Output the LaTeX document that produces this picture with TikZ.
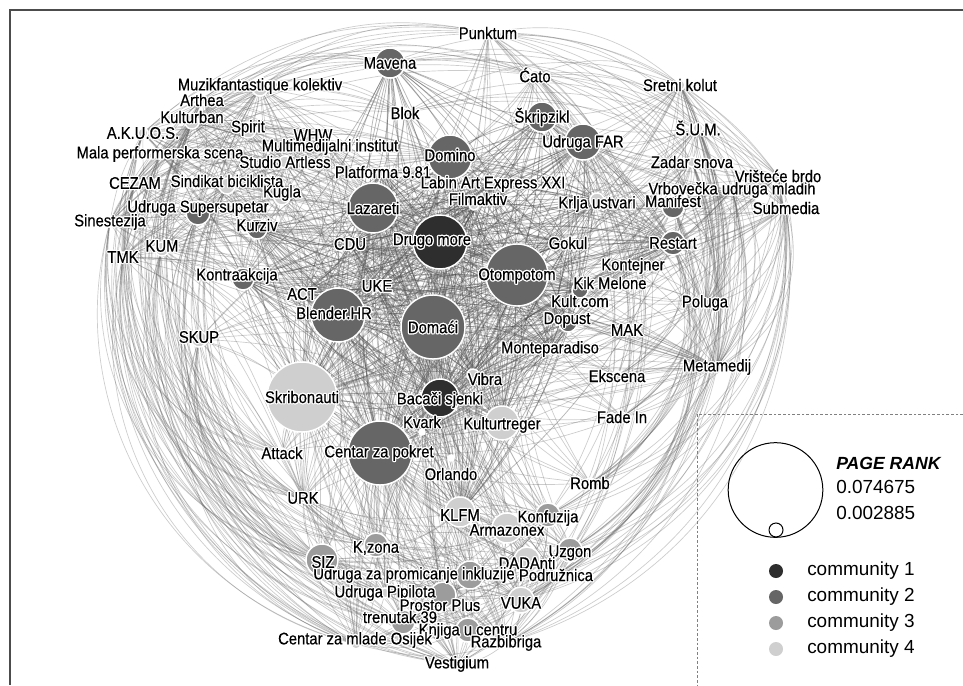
\documentclass[tikz,border=0pt]{standalone}
\usepackage{fontspec}
\setmainfont{Liberation Sans}
\newfontfamily\labfont{Liberation Sans}[FakeStretch=0.88,FakeBold=0.4]
\pgfdeclarelayer{bg}\pgfdeclarelayer{fg}
\pgfsetlayers{bg,main,fg}
\definecolor{cA}{HTML}{2E2E2E}
\definecolor{cB}{HTML}{666666}
\definecolor{cC}{HTML}{9C9C9C}
\definecolor{cD}{HTML}{CFCFCF}
\tikzset{
 nd/.style={circle,inner sep=0pt,minimum size={1.5pt*#1},draw=white,line width=1.1pt},
 lab/.style={font=\labfont\fontsize{12.6}{13}\selectfont,inner sep=0pt,text=black},
 edge/.style={draw=black!60,opacity=0.33,line width=0.5pt},
 coreedge/.style={draw=black!75,opacity=0.38,line width=0.55pt},
 leg/.style={anchor=west,inner sep=0pt,font=\fontsize{14.2}{15}\selectfont},
 legdot/.style={circle,inner sep=0pt,minimum size=10.5pt},
}
\def\halolist{1/0,-1/0,0/1,0/-1,0.7/0.7,-0.7/0.7,0.7/-0.7,-0.7/-0.7}
\newcommand\NodeX[8]{%
 \node[nd=#4,fill=#5] (#1) at (#2,#3) {};
 \begin{pgfonlayer}{fg}
  \foreach \hx/\hy in \halolist {\node[lab,text=white,xshift=\hx pt,yshift=\hy pt] at (#6,#7) {#8};}
  \node[lab] (#1-l) at (#6,#7) {#8};
 \end{pgfonlayer}}
\newcommand\mkclique[3]{\foreach \a [count=\i] in #1 {\foreach \b [count=\j] in #1 {\ifnum\j>\i\relax \draw[#3] (\a) to[bend left=#2] (\b);\fi}}}
\newcommand\mkbip[3]{\foreach \a in #1 {\foreach \b in #2 {\draw[edge] (\a) to[#3] (\b);}}}
\def\core{drugo,domaci,otompotom,centar,lazareti,blender,domino,bacaci,skribo,kulturtreger,far,skripzikl,mavena,cdu,uke,act,gokul,dopust,kultcom,monte,vibra,kvark,labin,filmaktiv,platforma,krlja,restart,kontra,kurziv,klfm}
\def\hubs{drugo,domaci,otompotom,centar,lazareti,blender,domino,bacaci,skribo}
\def\peri{punktum,muzik,arthea,kulturban,akuos,spirit,whw,multi,mala,studio,blok,cezam,sindikat,kugla,supersupetar,sinestezija,kum,tmk,skup,attack,urk,orlando,romb,ekscena,fadein,metamedij,poluga,mak,kikmelone,kontejner,manifest,vrbovecka,vristece,zadar,submedia,sum,sretni,cato,konfuzija,armazonex,uzgon,dadanti,inkluzija,podruznica,siz,kzona,pipilota,prostor,trenutak,vuka,knjiga,razbibriga,mlade,vestigium}
\def\lefttop{sinestezija,tmk,kum,cezam,akuos,mala,kulturban,arthea,muzik,supersupetar,skup,sindikat}
\def\leftbot{urk,attack,siz,mlade,pipilota,trenutak,vestigium,kzona}
\def\righttop{sretni,sum,zadar,vristece,submedia,vrbovecka,manifest,punktum,cato,restart}
\def\rightbot{metamedij,poluga,romb,fadein,ekscena,uzgon,razbibriga,vuka,podruznica,konfuzija}
\def\bottomcl{klfm,konfuzija,armazonex,uzgon,dadanti,inkluzija,podruznica,siz,kzona,pipilota,prostor,trenutak,vuka,knjiga,razbibriga,mlade,vestigium,urk,centar}
\def\leftcl{sinestezija,tmk,kum,cezam,akuos,mala,kulturban,arthea,muzik,supersupetar,spirit,sindikat,kugla,kurziv,studio,whw,multi,kontra}
\def\rightcl{sretni,sum,zadar,vristece,submedia,vrbovecka,manifest,krlja,far,skripzikl,restart,kontejner,kikmelone,poluga,metamedij}
\def\topl{muzik,akuos,mala,sinestezija,kulturban,arthea,cezam}
\def\topr{sretni,sum,submedia,vristece,zadar}
\def\topc{punktum,mavena,cato,blok}
\def\metafan{skup,kontra,kum,attack,urk,sinestezija,tmk,supersupetar,kurziv,sindikat,act,uke,cdu,monte,ekscena,mak,fadein,vibra,kvark}
\def\metam{metamedij}
\def\urkfan{skup,kontra,kum,tmk,supersupetar,sinestezija,kurziv,act,cezam,attack}
\def\urkm{urk}
\begin{document}
\begin{tikzpicture}[x=0.75pt,y=-0.75pt]
\useasboundingbox (0,0) rectangle (963,685);
% nodes
\NodeX{punktum}{488}{33}{5}{cD}{488}{33}{Punktum}
\NodeX{mavena}{390}{63}{15}{cB}{390}{63}{Mavena}
\NodeX{muzik}{260}{88}{8}{cD}{260}{86}{Muzikfantastique kolektiv}
\NodeX{arthea}{202}{100}{5}{cD}{202}{100}{Arthea}
\NodeX{kulturban}{192}{122}{7}{cD}{192}{117}{Kulturban}
\NodeX{akuos}{143}{133}{5}{cD}{143}{133}{A.K.U.O.S.}
\NodeX{spirit}{248}{130}{8}{cD}{248}{128}{Spirit}
\NodeX{whw}{313}{135}{5}{cD}{313}{135}{WHW}
\NodeX{multi}{330}{147}{5}{cD}{330}{147}{Multimedijalni institut}
\NodeX{mala}{160}{154}{5}{cD}{160}{154}{Mala performerska scena}
\NodeX{studio}{285}{162}{6}{cD}{285}{162}{Studio Artless}
\NodeX{blok}{405}{113}{5}{cD}{405}{113}{Blok}
\NodeX{domino}{450}{157}{22}{cB}{450}{155}{Domino}
\NodeX{platforma}{383}{172}{5}{cD}{383}{172}{Platforma 9.81}
\NodeX{cezam}{135}{183}{5}{cD}{135}{183}{CEZAM}
\NodeX{sindikat}{227}{186}{8}{cD}{227}{181}{Sindikat biciklista}
\NodeX{kugla}{282}{197}{8}{cD}{282}{193}{Kugla}
\NodeX{labin}{493}{184}{5}{cD}{493}{184}{Labin Art Express XXI}
\NodeX{filmaktiv}{474}{205}{5}{cD}{478}{199}{Filmaktiv}
\NodeX{lazareti}{373}{208}{25}{cB}{373}{208}{Lazareti}
\NodeX{supersupetar}{198}{213}{12}{cB}{198}{208}{Udruga Supersupetar}
\NodeX{sinestezija}{110}{222}{5}{cD}{110}{222}{Sinestezija}
\NodeX{kurziv}{257}{229}{10}{cB}{257}{225}{Kurziv}
\NodeX{cdu}{350}{244}{5}{cD}{350}{244}{CDU}
\NodeX{drugo}{440}{242}{27}{cA}{432}{241}{Drugo more}
\NodeX{kum}{162}{249}{7}{cD}{162}{246}{KUM}
\NodeX{tmk}{123}{257}{5}{cD}{123}{257}{TMK}
\NodeX{kontra}{243}{279}{11}{cB}{237}{276}{Kontraakcija}
\NodeX{act}{302}{294}{5}{cD}{302}{294}{ACT}
\NodeX{uke}{377}{286}{5}{cD}{377}{286}{UKE}
\NodeX{blender}{338}{315}{27}{cB}{334}{313}{Blender.HR}
\NodeX{domaci}{433}{327}{32}{cB}{433}{327}{Domaći}
\NodeX{skup}{199}{339}{8}{cD}{199}{337}{SKUP}
\NodeX{skribo}{302}{397}{35}{cD}{302}{397}{Skribonauti}
\NodeX{bacaci}{440}{398}{19}{cA}{440}{400}{Bacači sjenki}
\NodeX{vibra}{473}{375}{6}{cD}{485}{379}{Vibra}
\NodeX{kvark}{422}{432}{3}{white}{422}{422}{Kvark}
\NodeX{kulturtreger}{502}{423}{17}{cD}{502}{425}{Kulturtreger}
\NodeX{centar}{380}{453}{32}{cB}{379}{453}{Centar za pokret}
\NodeX{orlando}{451}{458}{3}{white}{451}{474}{Orlando}
\NodeX{attack}{282}{453}{5}{cD}{282}{453}{Attack}
\NodeX{urk}{303}{498}{5}{cD}{303}{498}{URK}
\NodeX{romb}{590}{483}{5}{cD}{590}{483}{Romb}
\NodeX{monte}{550}{349}{5}{cD}{550}{349}{Monteparadiso}
\NodeX{ekscena}{617}{376}{5}{cD}{617}{376}{Ekscena}
\NodeX{fadein}{622}{417}{5}{cD}{622}{417}{Fade In}
\NodeX{metamedij}{717}{367}{5}{cD}{717}{367}{Metamedij}
\NodeX{poluga}{705}{303}{5}{cD}{705}{303}{Poluga}
\NodeX{mak}{627}{330}{5}{cD}{627}{330}{MAK}
\NodeX{dopust}{568}{323}{9}{cB}{567}{320}{Dopust}
\NodeX{kultcom}{580}{290}{8}{cB}{580}{301}{Kult.com}
\NodeX{kikmelone}{610}{283}{5}{cD}{610}{283}{Kik Melone}
\NodeX{kontejner}{633}{266}{5}{cD}{633}{266}{Kontejner}
\NodeX{restart}{673}{243}{12}{cB}{673}{243}{Restart}
\NodeX{gokul}{568}{243}{5}{cD}{568}{243}{Gokul}
\NodeX{otompotom}{517}{275}{31}{cB}{517}{276}{Otompotom}
\NodeX{krlja}{597}{200}{7}{cD}{597}{204}{Krlja ustvari}
\NodeX{manifest}{673}{207}{11}{cB}{673}{201}{Manifest}
\NodeX{vrbovecka}{732}{190}{5}{cD}{732}{190}{Vrbovečka udruga mladih}
\NodeX{vristece}{778}{176}{5}{cD}{778}{176}{Vrišteće brdo}
\NodeX{zadar}{692}{162}{5}{cD}{692}{162}{Zadar snova}
\NodeX{submedia}{786}{208}{5}{cD}{786}{208}{Submedia}
\NodeX{sum}{698}{128}{5}{cD}{698}{128}{Š.U.M.}
\NodeX{sretni}{680}{85}{5}{cD}{680}{85}{Sretni kolut}
\NodeX{cato}{535}{75}{5}{cD}{535}{75}{Ćato}
\NodeX{skripzikl}{542}{117}{15}{cB}{542}{117}{Škripzikl}
\NodeX{far}{583}{142}{18}{cB}{583}{143}{Udruga FAR}
\NodeX{klfm}{460}{512}{15}{cD}{460}{515}{KLFM}
\NodeX{konfuzija}{548}{515}{12}{cC}{548}{518}{Konfuzija}
\NodeX{armazonex}{507}{528}{15}{cD}{507}{530}{Armazonex}
\NodeX{uzgon}{570}{550}{12}{cC}{570}{553}{Uzgon}
\NodeX{dadanti}{527}{560}{13}{cD}{527}{563}{DADAnti}
\NodeX{inkluzija}{470}{575}{14}{cC}{414}{575}{Udruga za promicanje inkluzije}
\NodeX{podruznica}{556}{575}{5}{cD}{556}{575}{Podružnica}
\NodeX{siz}{322}{560}{16}{cC}{323}{562}{SIZ}
\NodeX{kzona}{376}{545}{12}{cC}{376}{548}{K,zona}
\NodeX{pipilota}{385}{593}{5}{cD}{385}{593}{Udruga Pipilota}
\NodeX{prostor}{443}{595}{13}{cC}{440}{605}{Prostor Plus}
\NodeX{trenutak}{403}{622}{12}{cC}{400}{617}{trenutak.39}
\NodeX{vuka}{521}{600}{13}{cD}{521}{603}{VUKA}
\NodeX{knjiga}{468}{630}{12}{cC}{468}{631}{Knjiga u centru}
\NodeX{razbibriga}{506}{643}{5}{cD}{506}{643}{Razbibriga}
\NodeX{mlade}{356}{644}{5}{cD}{355}{640}{Centar za mlade Osijek}
\NodeX{vestigium}{457}{664}{5}{cD}{457}{664}{Vestigium}
% edges
\begin{pgfonlayer}{bg}
\fill[white] (0,0) rectangle (963,685);
\mkclique{\core}{12}{coreedge}
\mkbip{\peri}{\hubs}{bend left=10}
\mkbip{\lefttop}{\leftbot}{bend right=45}
\mkbip{\righttop}{\rightbot}{bend left=40}
\mkbip{\topc}{\topl}{bend right=25}
\mkbip{\topc}{\topr}{bend left=25}
\mkclique{\bottomcl}{15}{edge}
\mkbip{\metafan}{\metam}{bend left=8}
\mkclique{\leftcl}{10}{edge}
\mkclique{\rightcl}{10}{edge}
\mkbip{\urkfan}{\urkm}{bend left=8}
\end{pgfonlayer}
% frame and legend
\draw[black!70,line width=1.5pt] (963,10) -- (10,10) -- (10,685);
\draw[black!50,line width=0.75pt,dash pattern=on 2pt off 1.5pt] (963,414) -- (697,414) -- (697,685);
\node[circle,draw=black,line width=0.75pt,minimum size=71pt,inner sep=0pt] (lgbig) at (775.5,490) {};
\node[circle,draw=black,line width=0.75pt,minimum size=10.5pt,inner sep=0pt] (lgsmall) at (776,530) {};
\node[anchor=west,inner sep=0pt,font=\fontsize{13.2}{14}\selectfont\bfseries\itshape] (lgtitle) at (836,463) {PAGE RANK};
\node[leg] (lgmax) at (836,487) {0.074675};
\node[leg] (lgmin) at (836,513) {0.002885};
\node[legdot,fill=cA] (d1) at (776,571) {};
\node[legdot,fill=cB] (d2) at (776,597) {};
\node[legdot,fill=cC] (d3) at (776,623) {};
\node[legdot,fill=cD] (d4) at (776,649) {};
\node[leg] (t1) at (807,571) {community 1};
\node[leg] (t2) at (807,597) {community 2};
\node[leg] (t3) at (807,623) {community 3};
\node[leg] (t4) at (807,649) {community 4};
\end{tikzpicture}
\end{document}
